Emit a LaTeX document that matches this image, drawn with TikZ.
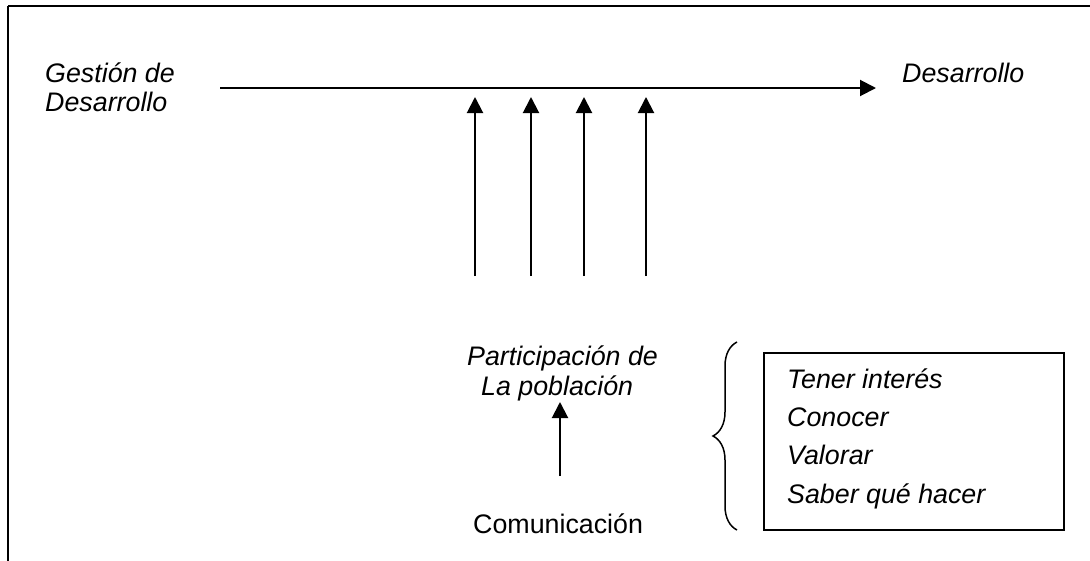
\documentclass[tikz,border=0pt]{standalone}
\usepackage{fontspec}
\setmainfont{Liberation Sans}
\usetikzlibrary{arrows.meta,decorations.pathreplacing}
\begin{document}
\begin{tikzpicture}[x=1pt,y=-1pt,
  lbl/.style={font=\fontsize{26.8}{30}\selectfont\itshape, inner sep=0pt, anchor=base west, align=left},
  plain/.style={font=\fontsize{26.8}{30}\selectfont, inner sep=0pt, anchor=base west},
  arr/.style={line width=2pt, -{Triangle[length=16pt,width=16pt]}},
  frame/.style={line width=2.4pt}]
\useasboundingbox (0,0) rectangle (1090,560);
% outer frame (right and bottom edges lie outside the picture)
\draw[frame] (8,6) -- (1095,6);
\draw[frame] (8,6) -- (8,565);
% texts
\node[lbl] (gest) at (45,82) {Gestión de};
\node[lbl] (gest2) at (45,111) {Desarrollo};
\node[lbl] (des) at (902,82) {Desarrollo};
\node[lbl] (part) at (467,365) {Participación de};
\node[lbl] (pob) at (481,395) {La población};
\node[plain] (com) at (473,533) {Comunicación};
% main horizontal arrow
\coordinate (hs) at (220,88);
\coordinate (he) at (876,88);
\draw[arr] (hs) -- (he);
% vertical arrows
\foreach \i/\x in {1/475,2/531,3/584,4/646}{
  \coordinate (vb\i) at (\x,276);
  \coordinate (vt\i) at (\x,97);
  \draw[arr] (vb\i) -- (vt\i);
}
% small arrow
\coordinate (sb) at (560,476);
\coordinate (st) at (560,402);
\draw[arr] (sb) -- (st);
% brace
\coordinate (bt) at (737,342);
\coordinate (bb) at (737,530);
\draw[line width=1.5pt, decorate, decoration={brace, amplitude=24pt, aspect=0.5}] (bb) -- (bt);
% box
\node[draw, line width=2pt, minimum width=300pt, minimum height=177pt, inner sep=0pt, anchor=north west] (box) at (763,352) {};
\node[lbl] (t1) at (787,388) {Tener interés};
\node[lbl] (t2) at (787,426) {Conocer};
\node[lbl] (t3) at (787,464) {Valorar};
\node[lbl] (t4) at (787,503) {Saber qué hacer};
\end{tikzpicture}
\end{document}
